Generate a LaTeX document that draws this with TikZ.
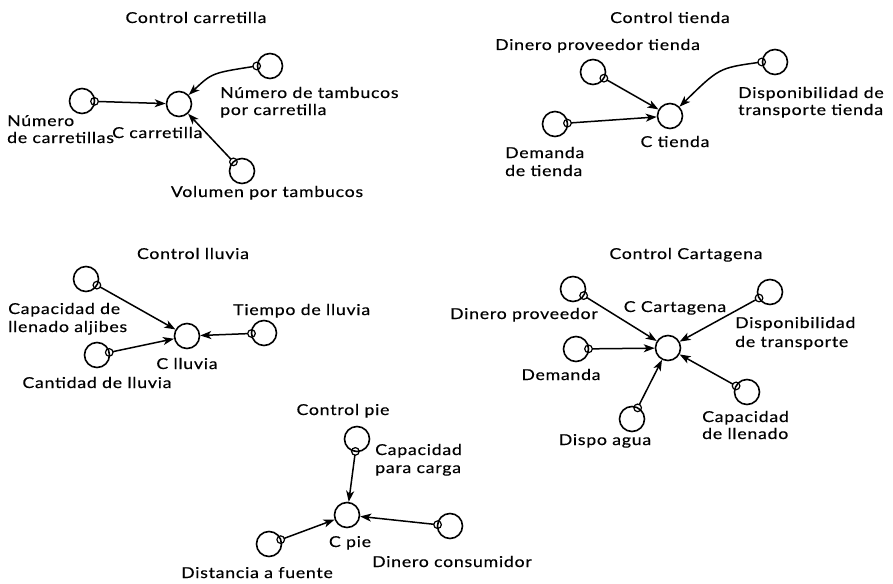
\documentclass[tikz,border=0pt]{standalone}
\usepackage{fontspec}
\setmainfont{Lato}[FakeStretch=1.18,LetterSpace=5,FakeBold=0.4]
\usetikzlibrary{arrows.meta,calc}
\newcommand\straightlink[3]{%
  \draw[tail] ($(#1)!12.5pt!(#2)$) coordinate (#3) circle[radius=3.8pt];
  \draw[conn] (#3) -- (#2);}
\begin{document}
\begin{tikzpicture}[x=1pt,y=-1pt,
  var/.style={circle,draw,line width=1.6pt,minimum size=25pt,inner sep=0pt},
  lab/.style={inner sep=0pt,font=\fontsize{15}{17}\selectfont},
  conn/.style={line width=1.5pt,-{Stealth[length=11pt,width=8pt,inset=3pt]},shorten <=3.6pt},
  tail/.style={line width=1.2pt}]
\useasboundingbox[fill=white] (0,0) rectangle (893,583);

% ---------- Control carretilla ----------
\node[var] (nc) at (82,101) {};
\node[var] (cc) at (179,104) {};
\node[var] (nt) at (270,66) {};
\node[var] (vt) at (242,171) {};
\node[lab,anchor=base] (l1) at (196,23) {Control carretilla};
\node[lab,anchor=base west] (l2) at (7,126) {Número};
\node[lab,anchor=base west] (l3) at (7,143) {de carretillas};
\node[lab,anchor=base west] (l4) at (112,138) {C carretilla};
\node[lab,anchor=base west] (l5) at (220,98) {Número de tambucos};
\node[lab,anchor=base west] (l6) at (220,115) {por carretilla};
\node[lab,anchor=base] (l7) at (267,197) {Volumen por tambucos};
\straightlink{nc}{cc}{t1}
\straightlink{vt}{cc}{t2}
\draw[tail] (nt.180) circle[radius=3.8pt];
\draw[conn] (nt.180) .. controls (212,73) .. (cc);

% ---------- Control tienda ----------
\node[var] (dp) at (593,72) {};
\node[var] (ct) at (670,116) {};
\node[var] (dt) at (775,62) {};
\node[var] (dm) at (555,124) {};
\node[lab,anchor=base] (m1) at (670,23) {Control tienda};
\node[lab,anchor=base west] (m2) at (495,50) {Dinero proveedor tienda};
\node[lab,anchor=base west] (m3) at (738,98) {Disponibilidad de};
\node[lab,anchor=base west] (m4) at (738,115) {transporte tienda};
\node[lab,anchor=base] (m5) at (675,147) {C tienda};
\node[lab,anchor=base west] (m6) at (505,158) {Demanda};
\node[lab,anchor=base west] (m7) at (505,176) {de tienda};
\straightlink{dp}{ct}{t3}
\straightlink{dm}{ct}{t4}
\draw[tail] (dt.180) circle[radius=3.8pt];
\draw[conn] (dt.180) .. controls (719,68) .. (ct);

% ---------- Control lluvia ----------
\node[var] (ca) at (86,279) {};
\node[var] (cl) at (187,336) {};
\node[var] (cn) at (97,355) {};
\node[var] (tl) at (264,333) {};
\node[lab,anchor=base] (n1) at (193,259) {Control lluvia};
\node[lab,anchor=base west] (n2) at (8,314) {Capacidad de};
\node[lab,anchor=base west] (n3) at (8,332) {llenado aljibes};
\node[lab,anchor=base west] (n4) at (233,315) {Tiempo de lluvia};
\node[lab,anchor=base] (n5) at (187,369) {C lluvia};
\node[lab,anchor=base] (n6) at (97,388) {Cantidad de lluvia};
\straightlink{ca}{cl}{t5}
\straightlink{cn}{cl}{t6}
\straightlink{tl}{cl}{t7}

% ---------- Control Cartagena ----------
\node[var] (cg) at (668,348) {};
\node[var] (dpv) at (573,289) {};
\node[var] (dem) at (576,349) {};
\node[var] (dtr) at (770,292) {};
\node[var] (cll) at (747,392) {};
\node[var] (da) at (632,419) {};
\node[lab,anchor=base] (o1) at (686,259) {Control Cartagena};
\node[lab,anchor=base] (o2) at (675,312) {C Cartagena};
\node[lab,anchor=base east] (o3) at (598,319) {Dinero proveedor};
\node[lab,anchor=base west] (o4) at (735,328) {Disponibilidad};
\node[lab,anchor=base west] (o5) at (735,347) {de transporte};
\node[lab,anchor=base] (o6) at (561,380) {Demanda};
\node[lab,anchor=base west] (o7) at (702,422) {Capacidad};
\node[lab,anchor=base west] (o8) at (702,439) {de llenado};
\node[lab,anchor=base] (o9) at (605,445) {Dispo agua};
\straightlink{dpv}{cg}{t8}
\straightlink{dem}{cg}{t9}
\straightlink{dtr}{cg}{t10}
\straightlink{cll}{cg}{t11}
\straightlink{da}{cg}{t12}

% ---------- Control pie ----------
\node[var] (cp) at (347,515) {};
\node[var] (cpc) at (357,439) {};
\node[var] (dfu) at (269,544) {};
\node[var] (dco) at (450,526) {};
\node[lab,anchor=base] (p1) at (343,415) {Control pie};
\node[lab,anchor=base west] (p2) at (375,455) {Capacidad};
\node[lab,anchor=base west] (p3) at (375,473) {para carga};
\node[lab,anchor=base] (p4) at (350,547) {C pie};
\node[lab,anchor=base west] (p5) at (372,567) {Dinero consumidor};
\node[lab,anchor=base] (p6) at (257,578) {Distancia a fuente};
\straightlink{cpc}{cp}{t13}
\straightlink{dfu}{cp}{t14}
\straightlink{dco}{cp}{t15}
\end{tikzpicture}
\end{document}
